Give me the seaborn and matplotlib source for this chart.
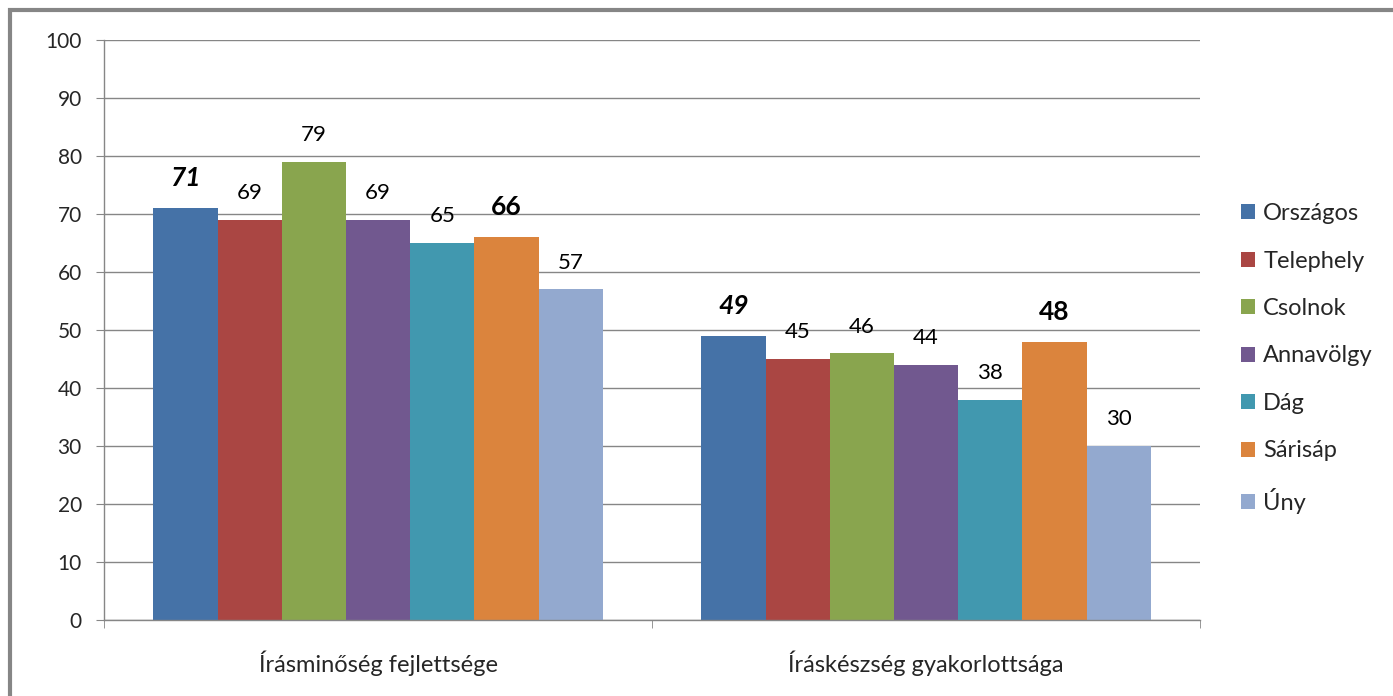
import pandas as pd
import seaborn as sns
import matplotlib.pyplot as plt
from matplotlib.patches import Rectangle, Patch

# chart data
categories = ['Írásminőség fejlettsége', 'Íráskészség gyakorlottsága']
series = ['Országos', 'Telephely', 'Csolnok', 'Annavölgy', 'Dág', 'Sárisáp', 'Úny']
values_irasminoseg = [71, 69, 79, 69, 65, 66, 57]
values_iraskeszseg = [49, 45, 46, 44, 38, 48, 30]
colors = ['#4572A7', '#AA4643', '#89A54E', '#71588F', '#4198AF', '#DB843D', '#93A9CF']

rows = []
for s, a, b in zip(series, values_irasminoseg, values_iraskeszseg):
    rows.append({'kategoria': categories[0], 'telepules': s, 'ertek': a})
    rows.append({'kategoria': categories[1], 'telepules': s, 'ertek': b})
df = pd.DataFrame(rows)

sns.set_style('white')
plt.rcParams['font.family'] = ['Lato', 'DejaVu Sans']

fig = plt.figure(figsize=(13.93, 6.96), dpi=100)
ax = fig.add_axes([0.0747, 0.1092, 0.7868, 0.8333])

sns.barplot(data=df, x='kategoria', y='ertek', hue='telepules', order=categories,
            hue_order=series, palette=colors, width=0.82, gap=0, saturation=1,
            linewidth=0, legend=False, ax=ax)

# data labels
for i, cont in enumerate(ax.containers):
    name = series[i]
    for bar in cont:
        h = bar.get_height()
        if name == 'Országos':
            kw = dict(fontsize=19, fontweight='bold', fontstyle='italic')
            off = 13
        elif name == 'Sárisáp':
            kw = dict(fontsize=19, fontweight='bold')
            off = 13
        else:
            kw = dict(fontsize=16)
            off = 12
        ax.annotate(f'{int(h)}', (bar.get_x() + bar.get_width() / 2, h),
                    xytext=(0, off), textcoords='offset points',
                    ha='center', va='bottom', color='black', **kw)

ax.set_ylim(0, 100)
ax.set_xlim(-0.5, 1.5)
ax.set_yticks(range(0, 101, 10))
ax.yaxis.grid(True, color='#868686', linewidth=1)
ax.set_axisbelow(True)
ax.set_xlabel('')
ax.set_ylabel('')
for sp in ['top', 'right']:
    ax.spines[sp].set_visible(False)
for sp in ['left', 'bottom']:
    ax.spines[sp].set_color('#868686')
    ax.spines[sp].set_linewidth(1)

ax.tick_params(axis='y', left=True, length=6, color='#868686', labelsize=15, pad=10)
ax.tick_params(axis='x', which='major', length=0, labelsize=17, pad=22)
ax.set_xticks([-0.5, 0.5, 1.5], minor=True)
ax.tick_params(axis='x', which='minor', bottom=True, length=6, color='#868686')

handles = [Patch(facecolor=c, edgecolor='none') for c in colors]
fig.legend(handles, series, loc='center left', bbox_to_anchor=(0.8755, 0.485),
           frameon=False, fontsize=17, handlelength=0.6, handleheight=0.6,
           handletextpad=0.35, labelspacing=1.12)

# outer border of the chart area
fig.patches.append(Rectangle((10 / 1393, -0.1), 1.2, 1 - 10 / 696 + 0.1,
                             transform=fig.transFigure, fill=False,
                             edgecolor='#868686', linewidth=3))

fig.savefig('out.png', dpi=100)
